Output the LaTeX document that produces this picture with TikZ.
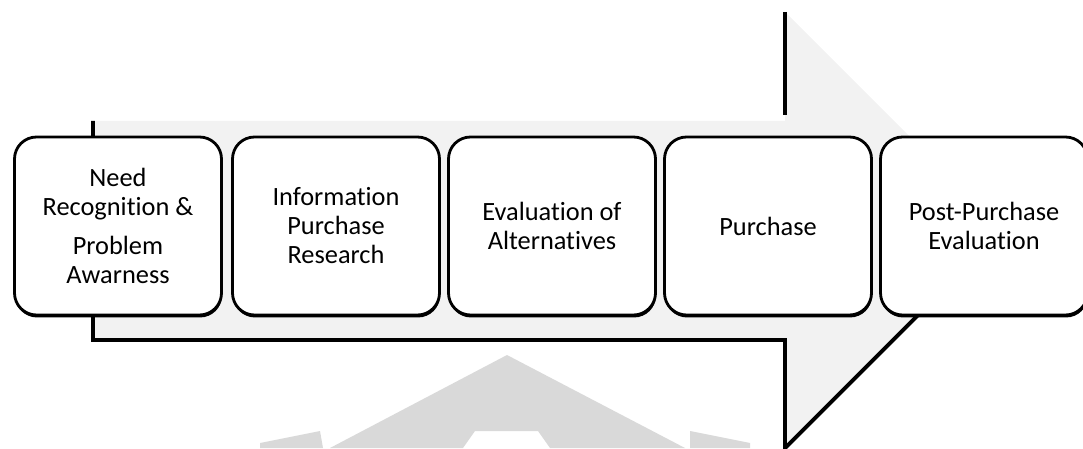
\documentclass[tikz,border=0pt]{standalone}
\usepackage{fontspec}
\setmainfont[Ligatures=NoCommon]{Carlito}
\usetikzlibrary{shadows}

\tikzset{
	stage/.style={draw=black, line width=1.6pt, fill=white, rounded corners=4.4mm,
		minimum width=41.4mm, minimum height=35.6mm, align=center,
		font=\fontsize{15}{16.5}\selectfont,
		drop shadow={opacity=1, fill=black, shadow xshift=0.3pt, shadow yshift=-1.4pt}},
	arrowline/.style={line width=2.2pt, black},
}

\begin{document}
\begin{tikzpicture}[x=0.2mm,y=0.2mm]
		\useasboundingbox (0,0) rectangle (1083,448);
		
		%faint logo in the back
		\fill[black!15] (507,93) -- (330,0) -- (463,0) -- (475,17) -- (538,17) -- (550,0) -- (685,0) -- cycle;
		\fill[black!15] (260,0) -- (260,5) -- (320,17) -- (323,0) -- cycle;
		\fill[black!15] (690,0) -- (690,17) -- (750,5) -- (750,0) -- cycle;
		
		%big arrow
		\fill[black!5] (93,327) -- (785,327) -- (785,436) -- (1003,218) -- (785,0) -- (785,108) -- (93,108) -- cycle;
		\draw[arrowline] (93,327) -- (93,108) -- (785,108) -- (785,0) -- (1003,218);
		\draw[arrowline] (785,436) -- (785,333);
		
		%stages
		\node[stage] (need) at (118,222) {Need\\Recognition \&\\[6pt]Problem\\Awarness};
		\node[stage] (info) at (336,222) {Information\\Purchase\\Research};
		\node[stage] (eval) at (552,222) {Evaluation of\\Alternatives};
		\node[stage] (buy) at (768,222) {Purchase};
		\node[stage] (post) at (984,222) {Post-Purchase\\Evaluation};
		
\end{tikzpicture}
\end{document}
